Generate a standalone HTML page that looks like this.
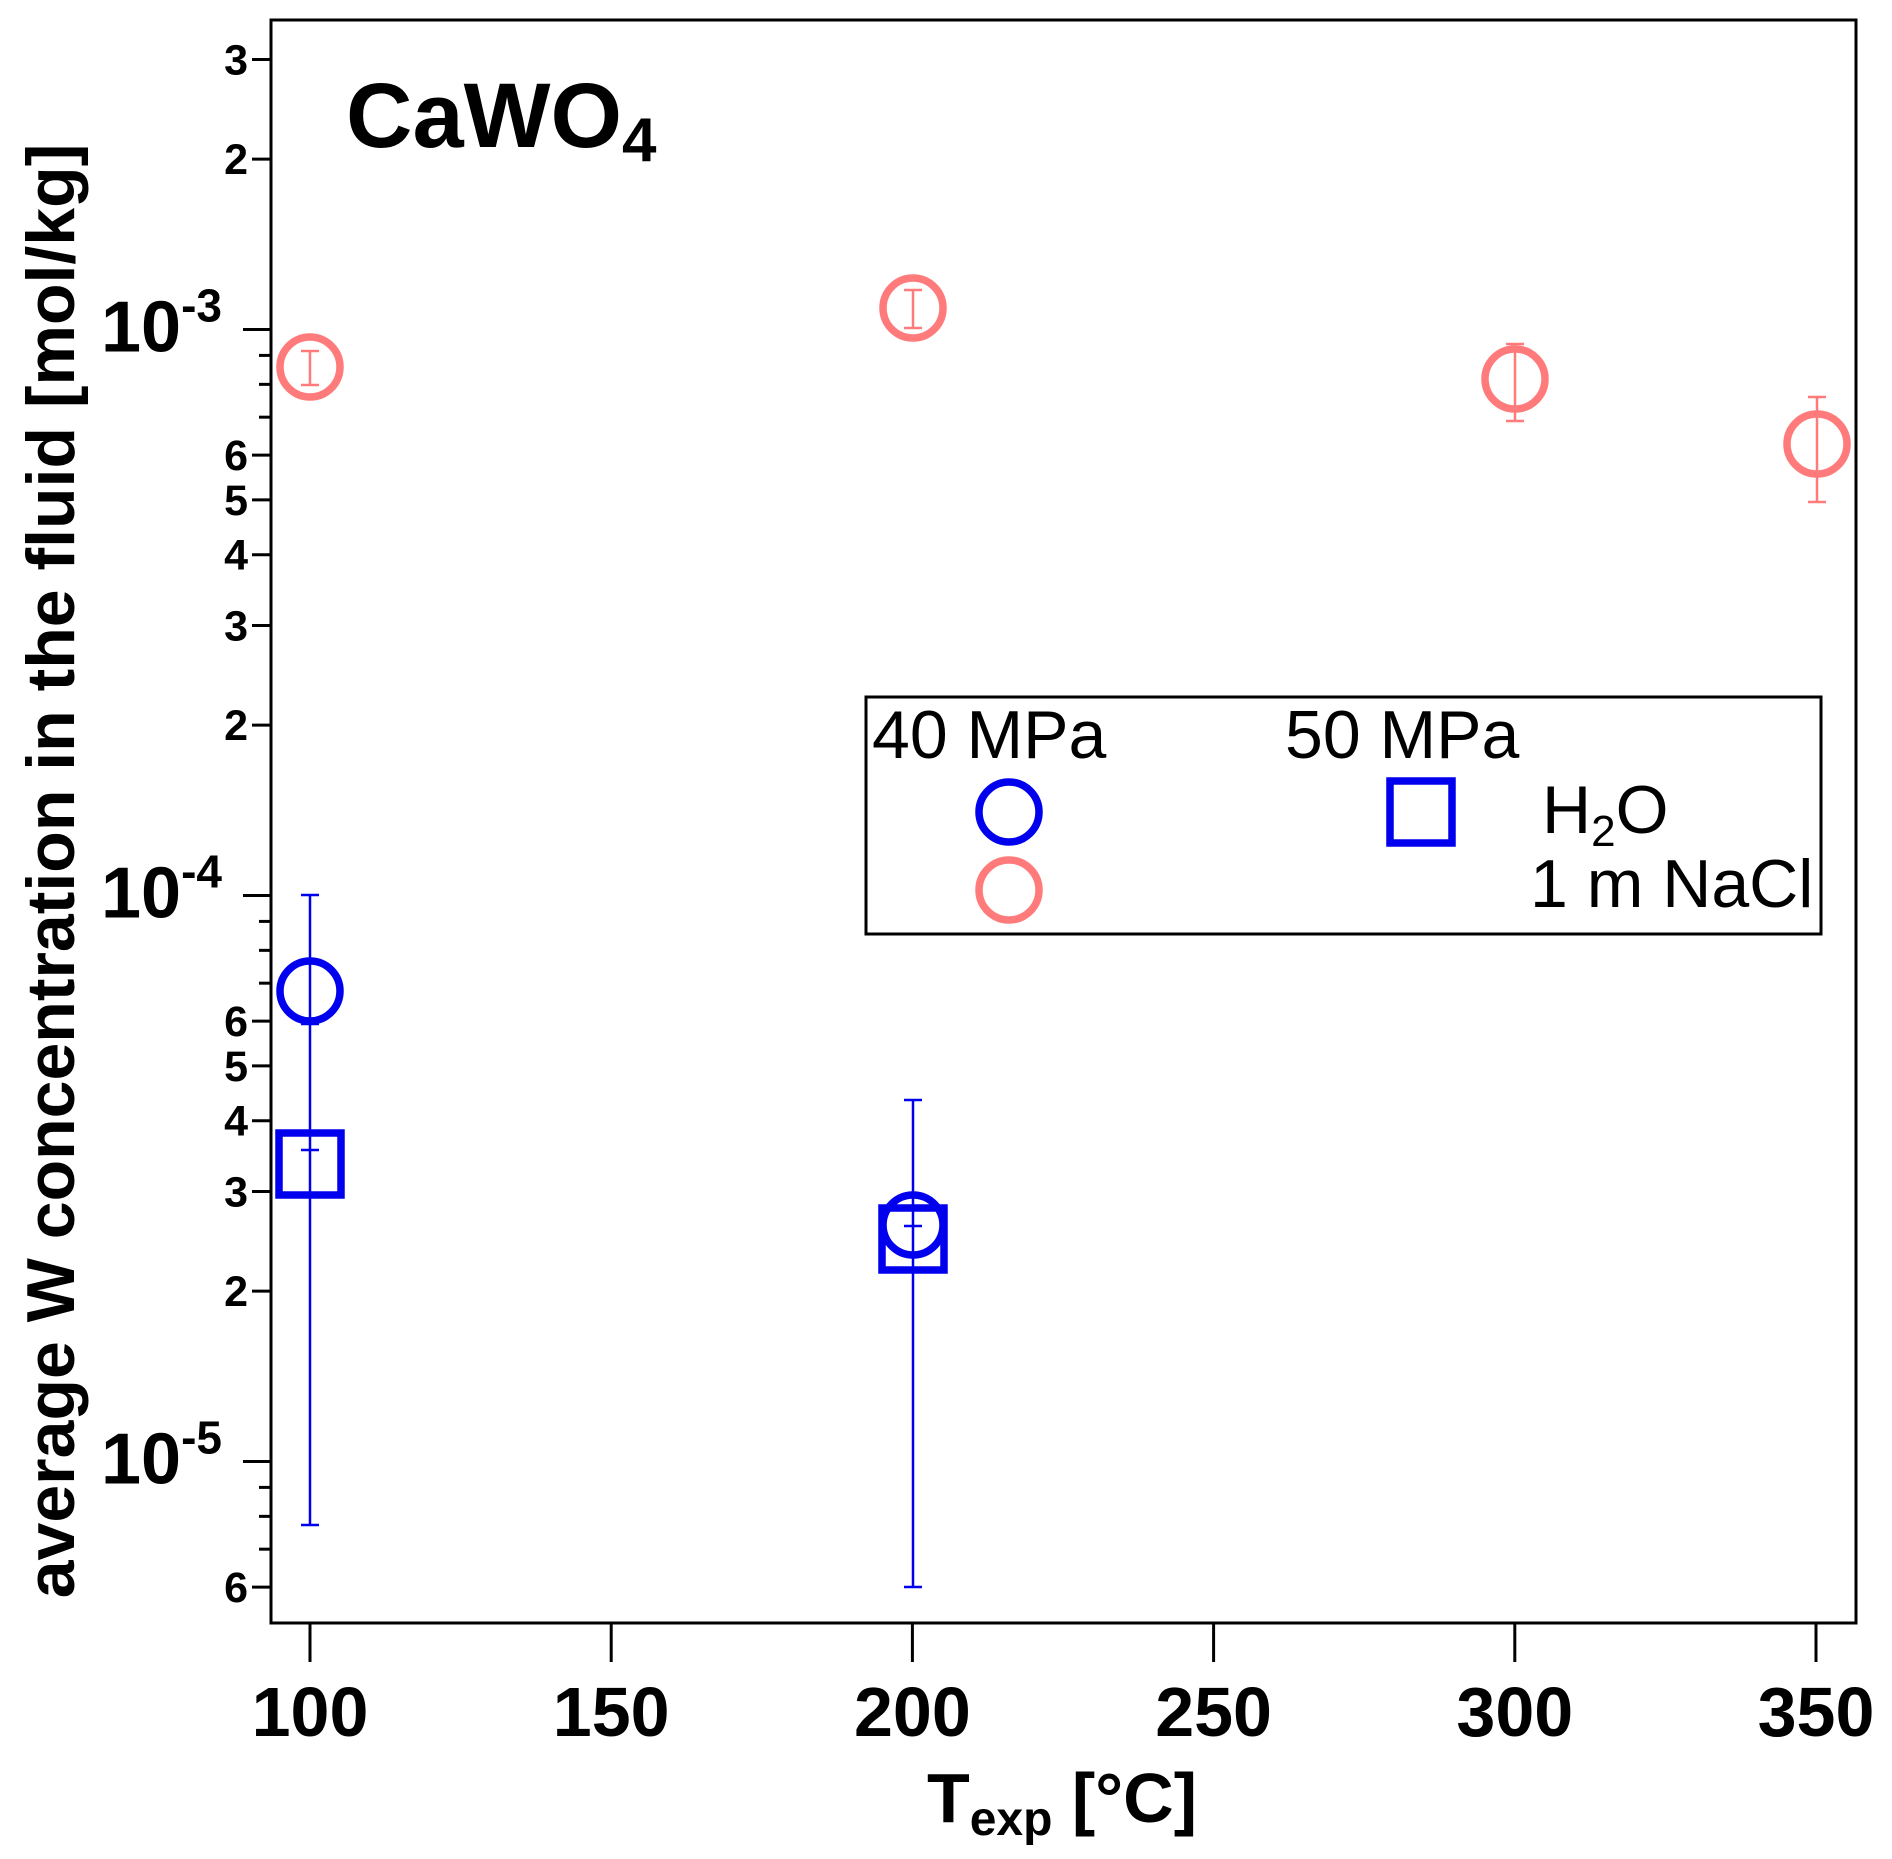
<!DOCTYPE html>
<html><head><meta charset="utf-8"><style>
html,body{margin:0;padding:0;background:#fff;}
svg{display:block;font-family:"Liberation Sans",Arial,sans-serif;}
</style></head><body>
<svg id="s" width="1892" height="1859" viewBox="0 0 1892 1859" xmlns="http://www.w3.org/2000/svg">
<rect x="271" y="20" width="1585" height="1603" fill="none" stroke="#000" stroke-width="3"/>
<g id="ticks" stroke="#000" stroke-width="3"></g>
<g id="labels" font-weight="bold" fill="#000"></g>
<text x="346" y="147" font-size="92" font-weight="bold">CaWO<tspan font-size="62" dy="14">4</tspan></text>
<g stroke="#ff7b7b" stroke-width="2.5" fill="none">
<path d="M310 351V385M301 351H319M301 385H319"/>
<path d="M913 290V328M904 290H922M904 328H922"/>
<path d="M1515 344V421M1506 344H1524M1506 421H1524"/>
<path d="M1817 397V502M1808 397H1826M1808 502H1826"/>
</g>
<g stroke="#ff7b7b" stroke-width="7.5" fill="none">
<circle cx="310" cy="367" r="30"/>
<circle cx="913" cy="308" r="30"/>
<circle cx="1515" cy="379" r="30"/>
<circle cx="1817" cy="444" r="30"/>
</g>
<g stroke="#0000ee" stroke-width="2.5" fill="none">
<path d="M310 895V1525M301 895H319M301 1024H319M301 1150H319M301 1525H319"/>
<path d="M913 1100V1587M904 1100H922M904 1226H922M904 1587H922"/>
</g>
<g stroke="#0000ee" stroke-width="7.5" fill="none">
<circle cx="310" cy="991" r="30"/>
<rect x="279" y="1133" width="62" height="62"/>
<circle cx="913" cy="1225" r="30"/>
<rect x="882" y="1208" width="62" height="62"/>
</g>
<rect x="866" y="697" width="955" height="237" fill="none" stroke="#000" stroke-width="3"/>
<g font-size="68" fill="#000">
<text x="872" y="758">40 MPa</text>
<text x="1285" y="758">50 MPa</text>
<text x="1542" y="833">H<tspan font-size="44" dy="13">2</tspan><tspan dy="-13">O</tspan></text>
<text x="1530" y="907">1 m NaCl</text>
</g>
<circle cx="1009" cy="812" r="30" stroke="#0000ee" stroke-width="7.5" fill="none"/>
<circle cx="1009" cy="890" r="30" stroke="#ff7b7b" stroke-width="7.5" fill="none"/>
<rect x="1390" y="781" width="62" height="62" stroke="#0000ee" stroke-width="7.5" fill="none"/>
<text x="1062" y="1822" font-size="70" font-weight="bold" text-anchor="middle">T<tspan font-size="48" dy="13">exp</tspan><tspan dy="-13"> [°C]</tspan></text>
<text transform="translate(74,871) rotate(-90)" font-size="68" font-weight="bold" text-anchor="middle">average W concentration in the fluid [mol/kg]</text>
</svg>
<script>
var NS="http://www.w3.org/2000/svg",T=document.getElementById('ticks'),L=document.getElementById('labels');
function ln(x1,y1,x2,y2){var e=document.createElementNS(NS,'line');e.setAttribute('x1',x1);e.setAttribute('y1',y1);e.setAttribute('x2',x2);e.setAttribute('y2',y2);T.appendChild(e);}
function tx(x,y,s,fs,anc){var e=document.createElementNS(NS,'text');e.setAttribute('x',x);e.setAttribute('y',y);e.setAttribute('font-size',fs);e.setAttribute('text-anchor',anc||'end');e.innerHTML=s;L.appendChild(e);return e;}
function Y(v){return 329.5-566*Math.log10(v/1e-3);}
for(var d=-6;d<=-3;d++){for(var m=1;m<=9;m++){var v=m*Math.pow(10,d),y=Y(v);if(y<20||y>1623)continue;
 if(m==1){ln(243,y,271,y);tx(222,y+22,'10<tspan font-size="46" dy="-30">'+d+'</tspan>',72,'end');}
 else if(m<=6 || (d==-3&&m<=3)){ln(252,y,271,y);tx(248,y+15,''+m,43,'end');}
 else ln(259,y,271,y);}}
for(var t=100;t<=350;t+=50){var x=310+(t-100)*6.024;ln(x,1623,x,1662);tx(x,1736,''+t,70,'middle');}
</script>
</body></html>
